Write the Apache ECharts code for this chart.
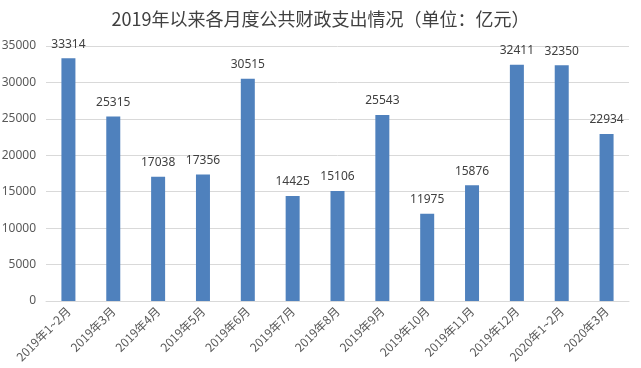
<!DOCTYPE html>
<html><head><meta charset="utf-8">
<script src="https://cdn.jsdelivr.net/npm/echarts@6/dist/echarts.min.js"></script>
<style>html,body{margin:0;padding:0;background:#fff}#c{width:641px;height:368px}</style>
</head><body><div id="c"></div>
<script>
const title = "2019年以来各月度公共财政支出情况（单位：亿元）";
const categories = ["2019年1~2月","2019年3月","2019年4月","2019年5月","2019年6月","2019年7月","2019年8月","2019年9月","2019年10月","2019年11月","2019年12月","2020年1~2月","2020年3月"];
const values = [33314,25315,17038,17356,30515,14425,15106,25543,11975,15876,32411,32350,22934];
const yMin = 0, yMax = 35000, yInterval = 5000;

const chart = echarts.init(document.getElementById('c'), null, {renderer:'canvas'});
chart.setOption({
  animation:false,
  title:{text:title,left:'center',top:5,textStyle:{fontFamily:'Noto Sans CJK SC',fontSize:18,fontWeight:'normal',color:'#404040'}},
  grid:{left:46,right:12,top:46,bottom:67,containLabel:false,outerBoundsMode:'none'},
  xAxis:{type:'category',data:categories,
    axisLine:{lineStyle:{color:'#d9d9d9'}},axisTick:{show:false},
    axisLabel:{rotate:45,interval:0,color:'#595959',fontSize:12,fontFamily:'Noto Sans CJK SC',margin:8}},
  yAxis:{type:'value',min:yMin,max:yMax,interval:yInterval,
    axisLine:{show:false},axisTick:{show:false},
    splitLine:{lineStyle:{color:'#d9d9d9'}},
    axisLabel:{color:'#595959',fontSize:12,fontFamily:'Noto Sans',margin:10,formatter:v=>String(v)}},
  series:[{type:'bar',data:values,barWidth:14,itemStyle:{color:'#4F81BD'},
    label:{show:true,position:'top',distance:8,color:'#404040',fontSize:12,fontFamily:'Noto Sans'}}]
});
</script></body></html>
